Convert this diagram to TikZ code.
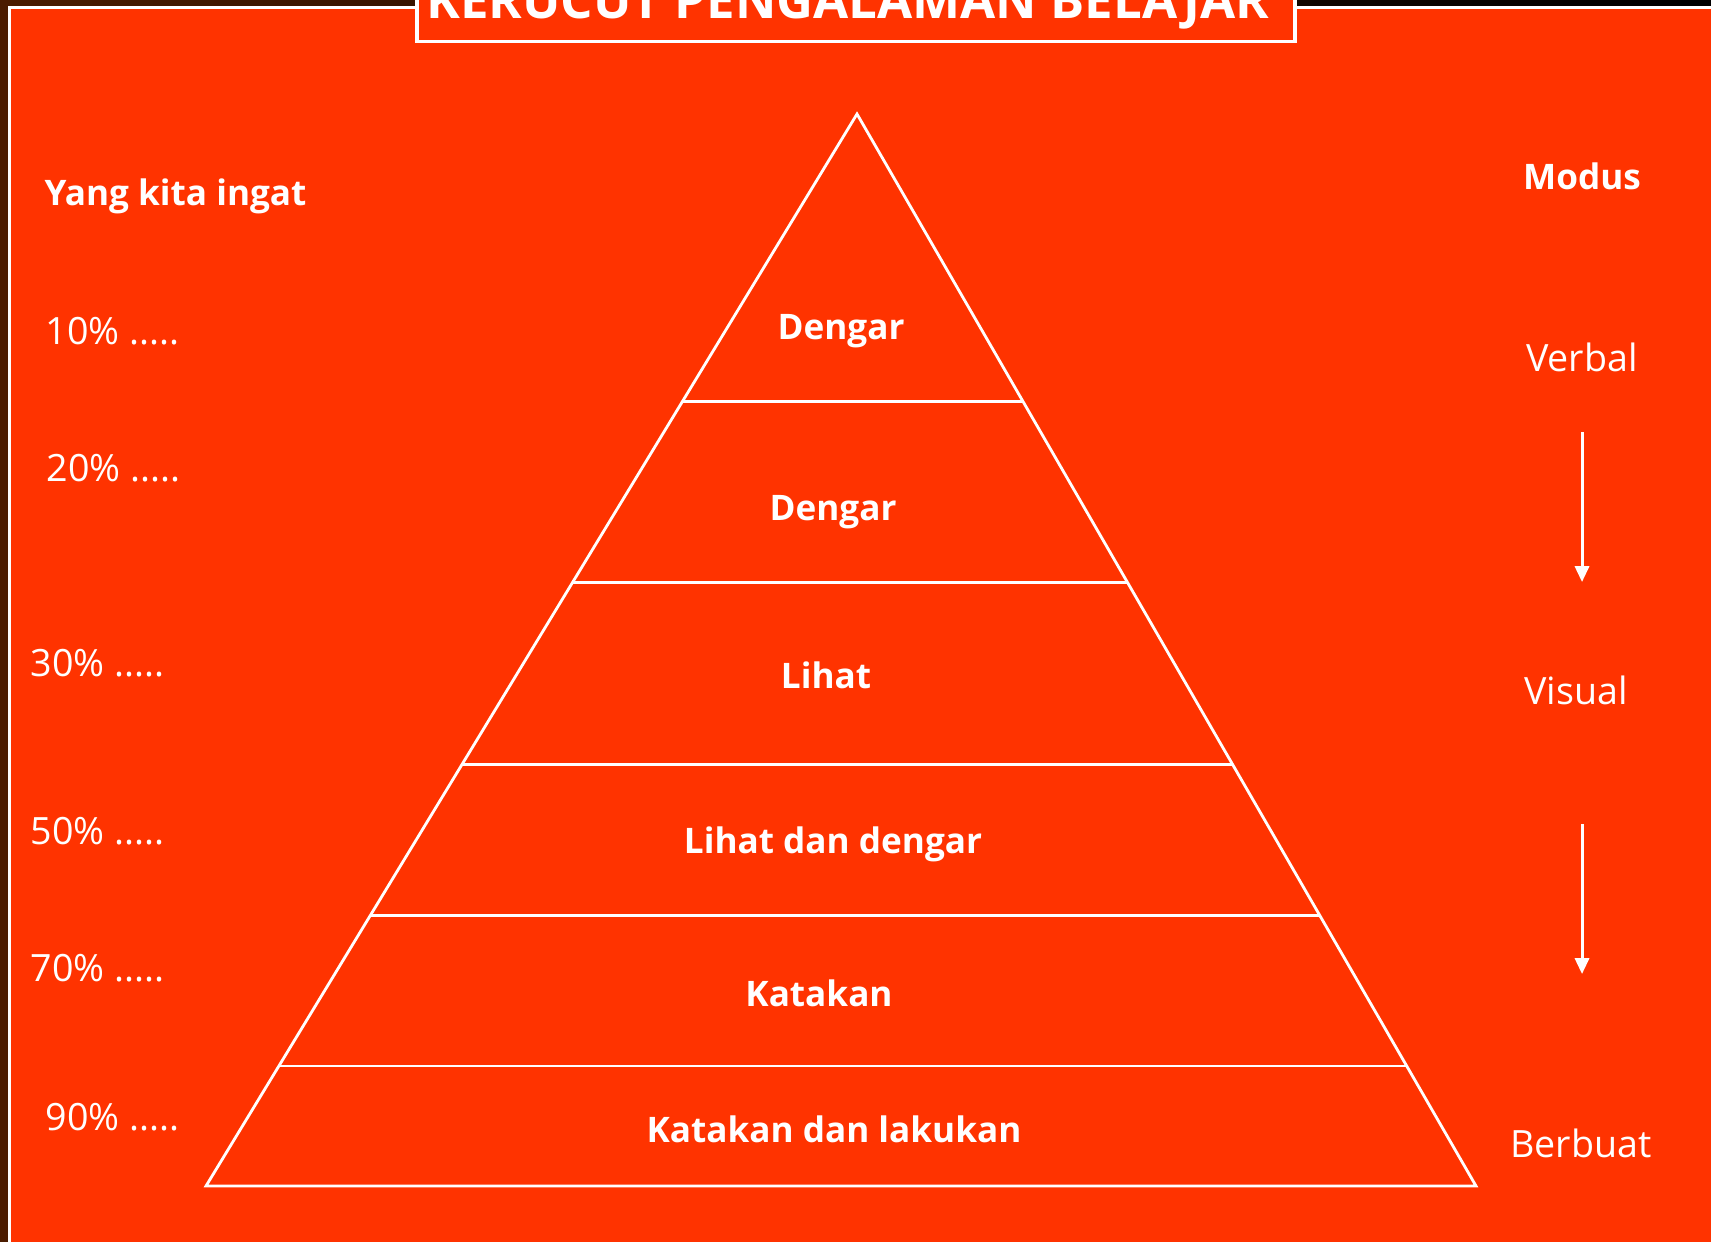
\documentclass[tikz,border=0pt]{standalone}
\usepackage{fontspec}
\setmainfont{Open Sans}
\usetikzlibrary{calc,arrows.meta}
\definecolor{slidebg}{RGB}{255,51,0}
\definecolor{framedark}{RGB}{75,28,0}
\tikzset{
  lbl/.style={text=white, font=\fontsize{10.7pt}{12pt}\selectfont, inner sep=0pt},
  lblb/.style={text=white, font=\bfseries\fontsize{10pt}{12pt}\selectfont, inner sep=0pt},
  cone/.style={white, line width=0.8pt},
  modearrow/.style={white, line width=0.85pt, -{Triangle[width=4pt,length=4.5pt]}}
}
\begin{document}
\begin{tikzpicture}[x=0.1mm, y=-0.1mm]
\useasboundingbox (0,0) rectangle (1711,1242);
\clip (0,0) rectangle (1711,1242);
\shade [left color=framedark, right color=black] (0,0) rectangle (1711,6);
\fill [framedark] (0,0) rectangle (8,1242);
\fill [white] (8,6) rectangle (1711,1242);
\fill [slidebg] (10.5,9) rectangle (1711,1242);

\draw [white, line width=0.9pt, fill=slidebg] (417,-40) rectangle (1295,41.5);
\node [lblb, font=\bfseries\fontsize{14.5pt}{16pt}\selectfont, anchor=base] (title) at (848,18) {KERUCUT PENGALAMAN BELAJAR};

\coordinate (apex) at (857,114);
\coordinate (bl) at (206,1186);
\coordinate (br) at (1476,1186);
\draw [cone] (apex) -- (bl) -- (br) -- cycle;
\foreach \t in {0.268,0.437,0.607,0.748,0.888}
	\draw [cone] ($(apex)!\t!(bl)$) -- ($(apex)!\t!(br)$);

\foreach \name/\x/\y/\txt in {lvA/841/331/Dengar, lvB/833/512/Dengar, lvC/826/675/Lihat,
	lvD/833/844/Lihat dan dengar, lvE/819/993/Katakan, lvF/834/1129/Katakan dan lakukan}
	\node [lblb] (\name) at (\x,\y) {\txt};

\node [lblb, anchor=west] (ingat) at (44,196) {Yang kita ingat};
\foreach \name/\x/\y/\txt in {pA/45/331/10, pB/46/468/20, pC/30/663/30,
	pD/30/831/50, pE/30/968/70, pF/45/1117/90}
	\node [lbl, anchor=west] (\name) at (\x,\y) {\txt\% .....};

\node [lblb] (modus) at (1582,176) {Modus};
\node [lbl] (verbal) at (1582,357) {Verbal};
\node [lbl] (visual) at (1576,690) {Visual};
\node [lbl] (berbuat) at (1581,1143) {Berbuat};

\draw [modearrow, shorten <=6mm, shorten >=10.8mm] (verbal) -- (verbal |- visual);
\draw [modearrow, shorten <=13.4mm, shorten >=16.9mm] (verbal |- visual) -- (verbal |- berbuat);
\end{tikzpicture}
\end{document}
